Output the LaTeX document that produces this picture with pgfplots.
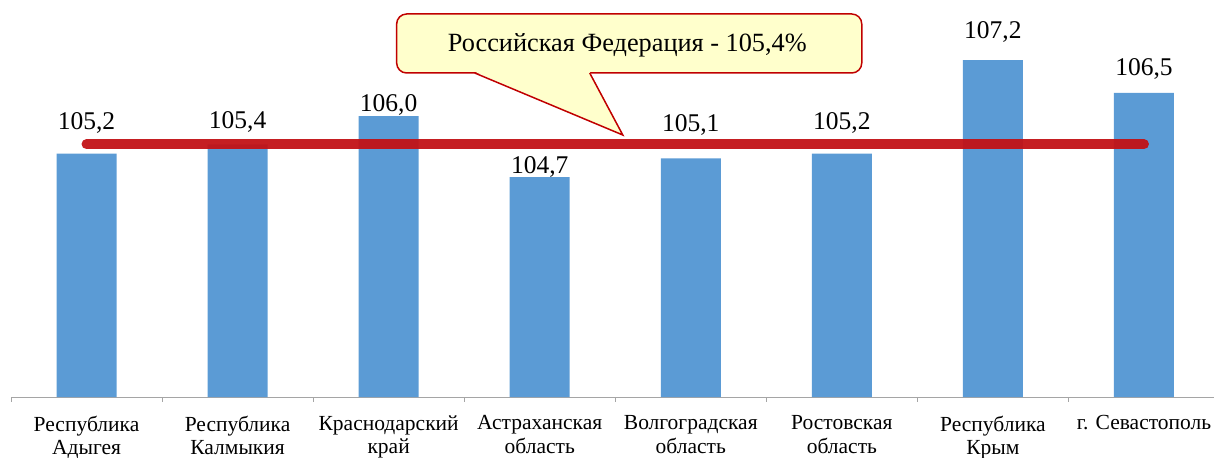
\documentclass[border=0pt]{standalone}
\usepackage{fontspec}
\setmainfont{Liberation Serif}
\usepackage{pgfplots}
\usepackage{pgfplotstable}
\pgfplotsset{compat=1.18}
\definecolor{barblue}{RGB}{91,155,213}
\definecolor{fedred}{RGB}{194,18,22}
\definecolor{callfill}{RGB}{255,255,204}
\definecolor{callred}{RGB}{192,0,0}
\definecolor{axgray}{RGB}{165,165,165}

\pgfplotstableread{
x y off lab
0 105.2 24 105,2
1 105.4 16 105,4
2 106.0 5 106,0
3 104.7 4 104,7
4 105.1 27 105,1
5 105.2 24 105,2
6 107.2 22 107,2
7 106.5 17 106,5
}\bardata

\pgfplotstableread{
x y
0 105.4
7 105.4
}\feddata

\begin{document}
\begin{tikzpicture}
\path[use as bounding box] (-11bp,-61bp) rectangle (1203bp,397bp);
\begin{axis}[
  scale only axis, width=1203bp, height=397bp,
  xmin=-0.5, xmax=7.464, ymin=0, ymax=8.483,
  enlargelimits=false,
  axis y line=none, axis x line*=bottom,
  x axis line style={draw=axgray, line width=0.75bp},
  xtick={0,1,2,3,4,5,6,7},
  xticklabels={{Республика\\Адыгея},{Республика\\Калмыкия},{Краснодарский\\край},{Астраханская\\область},{Волгоградская\\область},{Ростовская\\область},{Республика\\Крым},{г. Севастополь}},
  major tick length=0pt,
  major tick style={draw=none},
  minor xtick={-0.5,0.5,1.5,2.5,3.5,4.5,5.5,6.5},
  minor tick length=5bp, tick align=outside,
  minor tick style={draw=axgray, line width=0.75bp},
  xticklabel style={align=center, font=\fontsize{21.5bp}{23.5bp}\selectfont, anchor=north, inner sep=0pt, yshift=-18.5bp},
  clip=false,
]
\addplot[ybar, bar width=60bp, fill=barblue, draw=none,
  nodes near coords, point meta=explicit symbolic,
  visualization depends on={\thisrow{off} \as \myoff},
  every node near coord/.append style={anchor=base, font=\fontsize{25.5bp}{30bp}\selectfont, yshift=\myoff bp, inner sep=0pt, text=black}]
  table[x=x, y expr=\thisrow{y}-100, meta=lab]{\bardata};
\addplot[fedred, opacity=0.95, line width=10bp, line cap=round, mark=none]
  table[x=x, y expr=\thisrow{y}-100]{\feddata};
% callout
\draw[callred, fill=callfill, line width=1.5bp, rounded corners=10bp]
  (axis cs:2.053,6.923) rectangle (axis cs:5.132,8.184);
\fill[callfill] (axis cs:2.57,6.95) -- (axis cs:3.55,5.598) -- (axis cs:3.331,6.95) -- cycle;
\draw[callred, line width=1.5bp, line join=miter] (axis cs:2.57,6.923) -- (axis cs:3.55,5.598) -- (axis cs:3.331,6.923);
\node[anchor=base, inner sep=0pt, font=\fontsize{26.3bp}{30bp}\selectfont] at (axis cs:3.58,7.378) {Российская Федерация - 105,4\%};
\end{axis}
\end{tikzpicture}
\end{document}
